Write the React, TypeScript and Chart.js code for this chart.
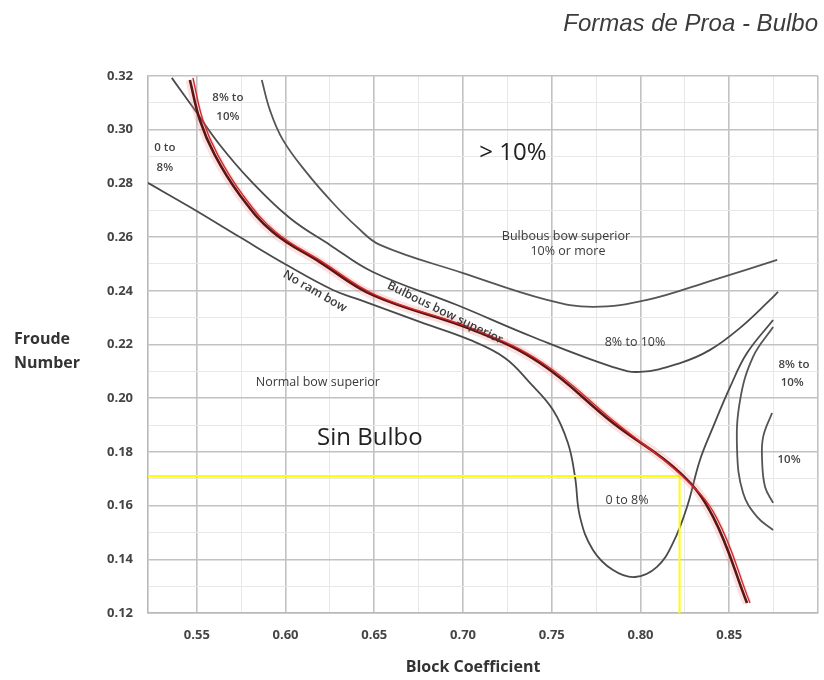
import { useEffect, useRef } from "react";
import { Chart, registerables } from "chart.js";

Chart.register(...registerables);

// Each curve is a list of [block coefficient, Froude number] pairs.
type Pt = [number, number];

// Axis ticks
const xMajorTicks = [0.55, 0.6, 0.65, 0.7, 0.75, 0.8, 0.85];
const xTickLabels = ["0.55", "0.60", "0.65", "0.70", "0.75", "0.80", "0.85"];
const xGridValues = [0.55, 0.575, 0.6, 0.625, 0.65, 0.675, 0.7, 0.725, 0.75, 0.775, 0.8, 0.825, 0.85, 0.875, 0.9];
const yMajorTicks = [0.12, 0.14, 0.16, 0.18, 0.2, 0.22, 0.24, 0.26, 0.28, 0.3, 0.32];
const yTickLabels = ["0.12", "0.14", "0.16", "0.18", "0.20", "0.22", "0.24", "0.26", "0.28", "0.30", "0.32"];
const yGridValues = [0.12, 0.13, 0.14, 0.15, 0.16, 0.17, 0.18, 0.19, 0.2, 0.21, 0.22, 0.23, 0.24, 0.25, 0.26, 0.27, 0.28, 0.29, 0.3, 0.31, 0.32];

// Lower limit of the "bulbous bow superior, 10% or more" zone
const bulbous10Limit: Pt[] = [
  [0.5866, 0.3185], [0.5912, 0.3073], [0.5985, 0.2962], [0.612, 0.2839],
  [0.6267, 0.2727], [0.6402, 0.2638], [0.6532, 0.2571], [0.7, 0.2466],
  [0.7473, 0.2366], [0.7732, 0.234], [0.8037, 0.2366], [0.8409, 0.244],
  [0.877, 0.2515],
];

// Upper boundary of the band, continuing as the 8%-10% trough
const upperBand: Pt[] = [
  [0.5359, 0.3193], [0.5489, 0.3073], [0.563, 0.2943], [0.5799, 0.2813],
  [0.6024, 0.2671], [0.625, 0.2571], [0.6492, 0.247], [0.6966, 0.2347],
  [0.7394, 0.2228], [0.7845, 0.2116], [0.7997, 0.2098], [0.8223, 0.2131],
  [0.8392, 0.218], [0.8561, 0.2262], [0.873, 0.2366], [0.8775, 0.2396],
];

// Lower boundary of the 0-8% zone, dropping into the trough near Cb 0.80
const lowerBand: Pt[] = [
  [0.5224, 0.2802], [0.5461, 0.2712], [0.5742, 0.26], [0.6007, 0.2496],
  [0.6267, 0.2403], [0.6419, 0.2366], [0.6757, 0.2284], [0.7039, 0.2217],
  [0.7236, 0.215], [0.7377, 0.2057], [0.7507, 0.1956], [0.7591, 0.1833],
  [0.7631, 0.1707], [0.7659, 0.1558], [0.7732, 0.1435], [0.7845, 0.136],
  [0.7969, 0.1334], [0.8093, 0.1372], [0.8183, 0.1461], [0.8262, 0.1595],
  [0.8335, 0.177], [0.8409, 0.1893], [0.8505, 0.2042], [0.86, 0.2168],
  [0.8747, 0.2291],
];

// Right-hand arcs around the 8%-10% and 10% pockets
const outerArc: Pt[] = [
  [0.8747, 0.2265], [0.8634, 0.2154], [0.8561, 0.1993], [0.8544, 0.1807],
  [0.8578, 0.1647], [0.8657, 0.1558], [0.8747, 0.1509],
];
const innerArc: Pt[] = [
  [0.8741, 0.1945], [0.8691, 0.1856], [0.8685, 0.177], [0.8702, 0.1669],
  [0.8747, 0.161],
];

// Bulb / no-bulb dividing line
const dividingLine: Pt[] = [
  [0.5461, 0.3185], [0.5517, 0.3036], [0.5601, 0.2906], [0.5742, 0.2757],
  [0.5928, 0.2619], [0.6193, 0.2507], [0.6492, 0.2384], [0.7056, 0.2254],
  [0.7433, 0.2131], [0.7845, 0.1908], [0.8223, 0.1722], [0.8409, 0.1558],
  [0.86, 0.1237],
];
const dividingLineRed: Pt[] = [
  [0.5478, 0.3193], [0.5534, 0.3036], [0.5618, 0.2906], [0.5759, 0.2757],
  [0.5945, 0.2619], [0.621, 0.2507], [0.6509, 0.2384], [0.7073, 0.2254],
  [0.745, 0.2131], [0.7862, 0.1908], [0.8235, 0.171], [0.8426, 0.1558],
  [0.8617, 0.1237],
];

// Reading for the design point
const designFn = 0.171;
const designCb = 0.822;
const readingLine: Pt[] = [[0.5225, designFn], [designCb, designFn], [designCb, 0.12]];

// Region annotations (text, Cb, Fn, style key)
const regionLabels: [string, number, number, string][] = [
  ["8% to", 0.5675, 0.3118, "tiny"],
  ["10%", 0.5675, 0.3047, "tiny"],
  ["0 to", 0.532, 0.2932, "tiny"],
  ["8%", 0.532, 0.2857, "tiny"],
  ["> 10%", 0.7281, 0.2913, "big"],
  ["Bulbous bow superior", 0.758, 0.2604, "small"],
  ["10% or more", 0.7591, 0.2545, "small"],
  ["8% to 10%", 0.7969, 0.2206, "small"],
  ["8% to", 0.8865, 0.2124, "tiny"],
  ["10%", 0.8855, 0.2057, "tiny"],
  ["10%", 0.8837, 0.177, "tiny"],
  ["0 to 8%", 0.7924, 0.1621, "small"],
  ["Normal bow superior", 0.6182, 0.206, "small"],
  ["Sin Bulbo", 0.6475, 0.1852, "big"],
  ["No ram bow", 0.6165, 0.2398, "slantA"],
  ["Bulbous bow superior", 0.6898, 0.2318, "slantB"],
];

const FONT = '"Open Sans", "Liberation Sans", sans-serif';

const labelStyles: Record<string, { size: number; weight: string; color: string; angle: number }> = {
  tiny: { size: 11.5, weight: "600", color: "#444", angle: 0 },
  small: { size: 12.5, weight: "400", color: "#3a3a3a", angle: 0 },
  big: { size: 24, weight: "400", color: "#222", angle: 0 },
  slantA: { size: 12, weight: "600", color: "#3a3a3a", angle: 30 },
  slantB: { size: 12, weight: "600", color: "#3a3a3a", angle: 26 },
};

const near = (a: number, b: number) => Math.abs(a - b) < 1e-6;
const isMajorX = (v: number) => xMajorTicks.some((t) => near(t, v)) || near(v, 0.9);
const isMajorY = (v: number) => yMajorTicks.some((t) => near(t, v));

const annotationPlugin = {
  id: "bowAnnotations",
  afterDatasetsDraw(chart: any) {
    const { ctx, scales } = chart;
    const xs = scales.x;
    const ys = scales.y;
    ctx.save();
    ctx.textAlign = "center";
    ctx.textBaseline = "middle";
    for (const [text, cb, fn, key] of regionLabels) {
      const st = labelStyles[key];
      ctx.font = `${st.weight} ${st.size}px ${FONT}`;
      ctx.fillStyle = st.color;
      ctx.save();
      ctx.translate(xs.getPixelForValue(cb), ys.getPixelForValue(fn));
      ctx.rotate((st.angle * Math.PI) / 180);
      ctx.fillText(text, 0, 0);
      ctx.restore();
    }
    // Axis titles
    ctx.fillStyle = "#333";
    ctx.font = `bold 16px ${FONT}`;
    ctx.textAlign = "left";
    ctx.fillText("Froude", 14, 339);
    ctx.fillText("Number", 14, 363);
    ctx.textAlign = "center";
    ctx.fillText("Block Coefficient", 473, 667);
    // Chart title
    ctx.fillStyle = "#3c3c3c";
    ctx.font = `italic 24px "Liberation Sans", Arial, sans-serif`;
    ctx.textAlign = "right";
    ctx.fillText("Formas de Proa - Bulbo", 818, 24);
    ctx.restore();
  },
};

function curve(data: Pt[], color: string, width: number, order: number) {
  return {
    data: data.map(([x, y]) => ({ x, y })),
    showLine: true,
    borderColor: color,
    borderWidth: width,
    pointRadius: 0,
    tension: 0.4,
    fill: false,
    order,
  };
}

export default function App() {
  const canvasRef = useRef<HTMLCanvasElement | null>(null);

  useEffect(() => {
    if (!canvasRef.current) return;
    const chart = new Chart(canvasRef.current, {
      type: "scatter",
      data: {
        datasets: [
          curve(dividingLineRed, "#d42a2a", 1.4, 0),
          curve(dividingLine, "#5a1616", 2.6, 1),
          curve(dividingLine, "rgba(240,120,120,0.22)", 9, 2),
          { ...curve(readingLine, "#ffff00", 2, 3), tension: 0 },
          curve(upperBand, "#4a4a4a", 1.8, 4),
          curve(lowerBand, "#4a4a4a", 1.8, 4),
          curve(bulbous10Limit, "#555", 1.8, 4),
          curve(outerArc, "#555", 1.8, 4),
          curve(innerArc, "#555", 1.8, 4),
        ],
      },
      options: {
        responsive: false,
        animation: false,
        layout: { padding: { top: 76, right: 6, bottom: 0, left: 0 } },
        plugins: {
          legend: { display: false },
          tooltip: { enabled: false },
          title: { display: false },
        },
        scales: {
          x: {
            type: "linear",
            min: 0.5225,
            max: 0.9,
            afterBuildTicks: (s: any) => {
              s.ticks = xGridValues.map((v) => ({ value: v }));
            },
            afterFit: (s: any) => {
              s.height = 67;
              s.paddingLeft = 0;
              s.paddingRight = 0;
            },
            ticks: {
              autoSkip: false,
              maxRotation: 0,
              padding: 14,
              color: "#444",
              font: { family: FONT, size: 13, weight: "bold" },
              callback: (v: any) => {
                const i = xMajorTicks.findIndex((t) => near(t, Number(v)));
                return i >= 0 ? xTickLabels[i] : "";
              },
            },
            grid: {
              drawTicks: false,
              color: (c: any) => (c.tick && isMajorX(c.tick.value) ? "#c2c2c2" : "#e8e8e8"),
              lineWidth: (c: any) => (c.tick && isMajorX(c.tick.value) ? 1.6 : 1),
            },
            border: { display: true, color: "#b8b8b8", width: 1.6 },
          },
          y: {
            type: "linear",
            min: 0.12,
            max: 0.32,
            afterBuildTicks: (s: any) => {
              s.ticks = yGridValues.map((v) => ({ value: v }));
            },
            afterFit: (s: any) => {
              s.width = 148;
              s.paddingTop = 0;
              s.paddingBottom = 0;
            },
            ticks: {
              autoSkip: false,
              padding: 15,
              color: "#444",
              font: { family: FONT, size: 13, weight: "bold" },
              callback: (v: any) => {
                const i = yMajorTicks.findIndex((t) => near(t, Number(v)));
                return i >= 0 ? yTickLabels[i] : "";
              },
            },
            grid: {
              drawTicks: false,
              color: (c: any) => (c.tick && isMajorY(c.tick.value) ? "#c2c2c2" : "#e8e8e8"),
              lineWidth: (c: any) => (c.tick && isMajorY(c.tick.value) ? 1.6 : 1),
            },
            border: { display: true, color: "#b8b8b8", width: 1.6 },
          },
        },
      },
      plugins: [annotationPlugin],
    } as any);
    return () => chart.destroy();
  }, []);

  return (
    <div style={{ position: "absolute", left: 0, top: 0, width: 824, height: 680, background: "#fff" }}>
      <canvas ref={canvasRef} width={824} height={680} style={{ display: "block" }} />
    </div>
  );
}
